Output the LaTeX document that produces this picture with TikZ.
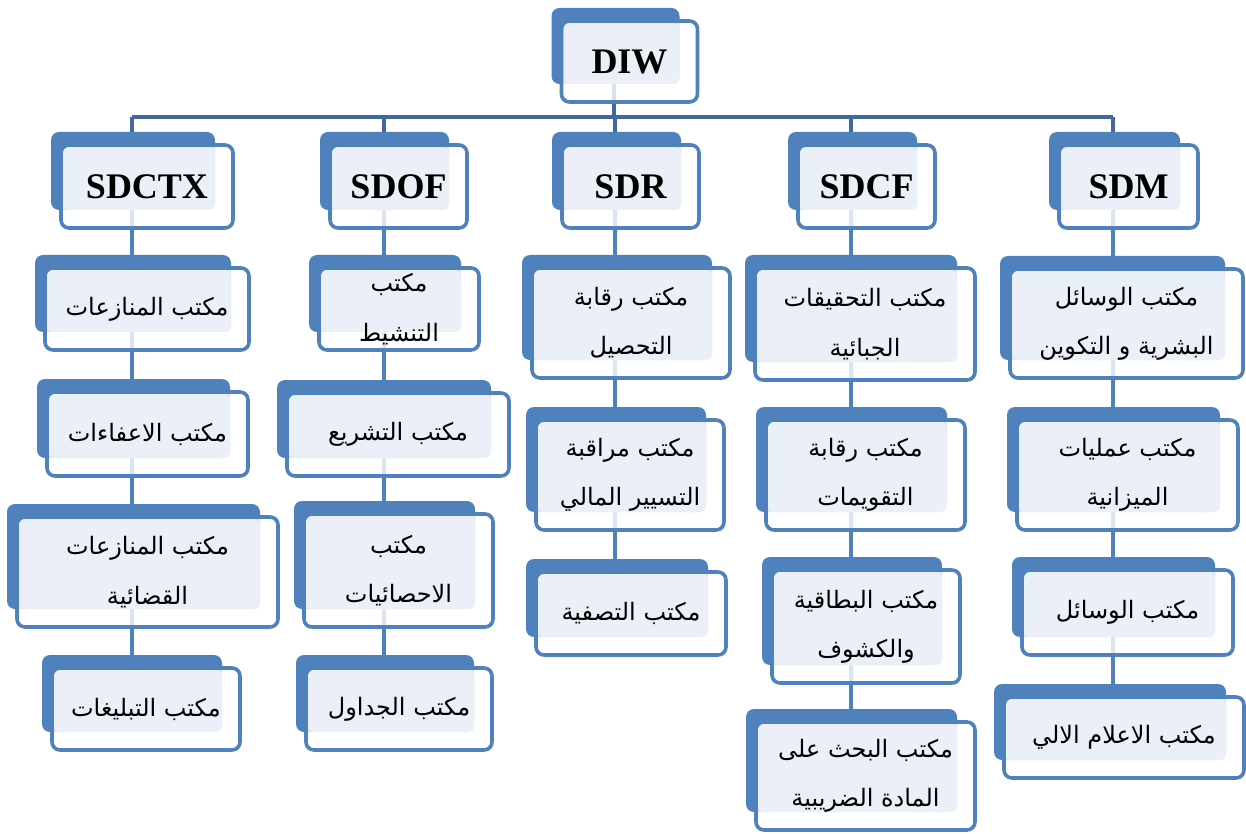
\documentclass[tikz,border=0pt]{standalone}
\usepackage{fontspec}
\setmainfont{Liberation Serif}
\newfontfamily\arabicfont[Script=Arabic]{DejaVu Sans}
\TeXXeTstate=1
\usetikzlibrary{calc}
\usetikzlibrary{backgrounds}
\definecolor{boxblue}{HTML}{4F81BD}
\definecolor{boxlight}{HTML}{EBF0F8}
\definecolor{trunkblue}{HTML}{41699F}
\newcommand{\arln}[1]{\beginR #1\endR}
\newdimen\pxu
\pxu=0.75pt

\begin{document}
\begin{tikzpicture}[x=0.75pt, y=-0.75pt,
    unit/.style = {draw=boxblue, line width=2.7pt, rounded corners=6pt, inner sep=0pt, outer sep=0pt, align=center},
    dept/.style = {unit, font=\bfseries\fontsize{27}{30}\selectfont},
    office/.style = {unit, font=\arabicfont\fontsize{18}{37}\selectfont},
    link/.style = {draw=boxblue, line width=3pt},
    trunk/.style = {draw=trunkblue, line width=3pt}]
    \useasboundingbox (0,0) rectangle (1246,834);

    \node[dept, minimum width=136*\pxu, minimum height=81*\pxu] (diw) at (629.5,61.5) {DIW};

    \node[dept, minimum width=172*\pxu, minimum height=83*\pxu] (sdctx) at (147,186.5) {SDCTX};
    \node[dept, minimum width=137*\pxu, minimum height=83*\pxu] (sdof) at (398.5,186.5) {SDOF};
    \node[dept, minimum width=137*\pxu, minimum height=83*\pxu] (sdr) at (630.5,186.5) {SDR};
    \node[dept, minimum width=137*\pxu, minimum height=83*\pxu] (sdcf) at (866.5,186.5) {SDCF};
    \node[dept, minimum width=139*\pxu, minimum height=83*\pxu] (sdm) at (1128.5,186.5) {SDM};

    \node[office, minimum width=204*\pxu, minimum height=82*\pxu] (ctxa) at (147,309) {\arln{مكتب المنازعات}};
    \node[office, minimum width=201*\pxu, minimum height=84*\pxu] (ctxb) at (147.5,434) {\arln{مكتب الاعفاءات}};
    \node[office, minimum width=261*\pxu, minimum height=110*\pxu] (ctxc) at (147.5,572) {\arln{مكتب المنازعات}\\\arln{القضائية}};
    \node[office, minimum width=188*\pxu, minimum height=82*\pxu] (ctxd) at (146,709) {\arln{مكتب التبليغات}};

    \node[office, minimum width=160*\pxu, minimum height=82*\pxu] (ofa) at (399,309) {\arln{مكتب}\\\arln{التنشيط}};
    \node[office, minimum width=222*\pxu, minimum height=83*\pxu] (ofb) at (398,434.5) {\arln{مكتب التشريع}};
    \node[office, minimum width=189*\pxu, minimum height=113*\pxu] (ofc) at (398.5,570.5) {\arln{مكتب}\\\arln{الاحصائيات}};
    \node[office, minimum width=186*\pxu, minimum height=82*\pxu] (ofd) at (399,709) {\arln{مكتب الجداول}};

    \node[office, minimum width=198*\pxu, minimum height=110*\pxu] (ra) at (631,323) {\arln{مكتب رقابة}\\\arln{التحصيل}};
    \node[office, minimum width=188*\pxu, minimum height=110*\pxu] (rb) at (630,475) {\arln{مكتب مراقبة}\\\arln{التسيير المالي}};
    \node[office, minimum width=190*\pxu, minimum height=83*\pxu] (rc) at (631,613.5) {\arln{مكتب التصفية}};

    \node[office, minimum width=220*\pxu, minimum height=112*\pxu] (cfa) at (865,324) {\arln{مكتب التحقيقات}\\\arln{الجبائية}};
    \node[office, minimum width=199*\pxu, minimum height=110*\pxu] (cfb) at (865.5,475) {\arln{مكتب رقابة}\\\arln{التقويمات}};
    \node[office, minimum width=188*\pxu, minimum height=113*\pxu] (cfc) at (866,626.5) {\arln{مكتب البطاقية}\\\arln{والكشوف}};
    \node[office, minimum width=219*\pxu, minimum height=108*\pxu] (cfd) at (865.5,776) {\arln{مكتب البحث على}\\\arln{المادة الضريبية}};

    \node[office, minimum width=233*\pxu, minimum height=109*\pxu] (ma) at (1126.5,323.5) {\arln{مكتب الوسائل}\\\arln{البشرية و التكوين}};
    \node[office, minimum width=221*\pxu, minimum height=110*\pxu] (mb) at (1127.5,475) {\arln{مكتب عمليات}\\\arln{الميزانية}};
    \node[office, minimum width=211*\pxu, minimum height=85*\pxu] (mc) at (1127.5,612.5) {\arln{مكتب الوسائل}};
    \node[office, minimum width=240*\pxu, minimum height=81*\pxu] (md) at (1124,737.5) {\arln{مكتب الاعلام الالي}};

    \coordinate (c0) at (614,0);
    \coordinate (c1) at (132,0);
    \coordinate (c2) at (384,0);
    \coordinate (c3) at (615,0);
    \coordinate (c4) at (851,0);
    \coordinate (c5) at (1113,0);
    \coordinate (barL) at (132,117);
    \coordinate (barR) at (1113,117);

    \begin{scope}[on background layer]
        % links behind the boxes
        \draw[trunk] (diw -| c0) -- (c0 |- barL);
        \draw[trunk] (barL) -- (barR);
        \draw[trunk] (c1 |- barL) -- (sdctx -| c1);
        \draw[trunk] (c2 |- barL) -- (sdof -| c2);
        \draw[trunk] (c3 |- barL) -- (sdr -| c3);
        \draw[trunk] (c4 |- barL) -- (sdcf -| c4);
        \draw[trunk] (c5 |- barL) -- (sdm -| c5);

        \draw[link] (sdctx -| c1) -- (ctxa -| c1);
        \draw[link] (ctxa -| c1) -- (ctxb -| c1);
        \draw[link] (ctxb -| c1) -- (ctxc -| c1);
        \draw[link] (ctxc -| c1) -- (ctxd -| c1);

        \draw[link] (sdof -| c2) -- (ofa -| c2);
        \draw[link] (ofa -| c2) -- (ofb -| c2);
        \draw[link] (ofb -| c2) -- (ofc -| c2);
        \draw[link] (ofc -| c2) -- (ofd -| c2);

        \draw[link] (sdr -| c3) -- (ra -| c3);
        \draw[link] (ra -| c3) -- (rb -| c3);
        \draw[link] (rb -| c3) -- (rc -| c3);

        \draw[link] (sdcf -| c4) -- (cfa -| c4);
        \draw[link] (cfa -| c4) -- (cfb -| c4);
        \draw[link] (cfb -| c4) -- (cfc -| c4);
        \draw[link] (cfc -| c4) -- (cfd -| c4);

        \draw[link] (sdm -| c5) -- (ma -| c5);
        \draw[link] (ma -| c5) -- (mb -| c5);
        \draw[link] (mb -| c5) -- (mc -| c5);
        \draw[link] (mc -| c5) -- (md -| c5);

        % shadow plate and light face of every box
        \foreach \b in {diw,sdctx,sdof,sdr,sdcf,sdm,ctxa,ctxb,ctxc,ctxd,ofa,ofb,ofc,ofd,ra,rb,rc,cfa,cfb,cfc,cfd,ma,mb,mc,md} {
            \fill[boxblue, rounded corners=6pt] ($(\b.north west)+(-10,-13)$) rectangle ($(\b.south east)+(-18,-18)$);
            \fill[white, fill opacity=.8, rounded corners=6pt] (\b.north west) rectangle (\b.south east);
            \fill[boxlight, rounded corners=4pt] ($(\b.north west)+(2,2)$) rectangle ($(\b.south east)+(-18,-18)$);
        }
    \end{scope}
\end{tikzpicture}
\end{document}
